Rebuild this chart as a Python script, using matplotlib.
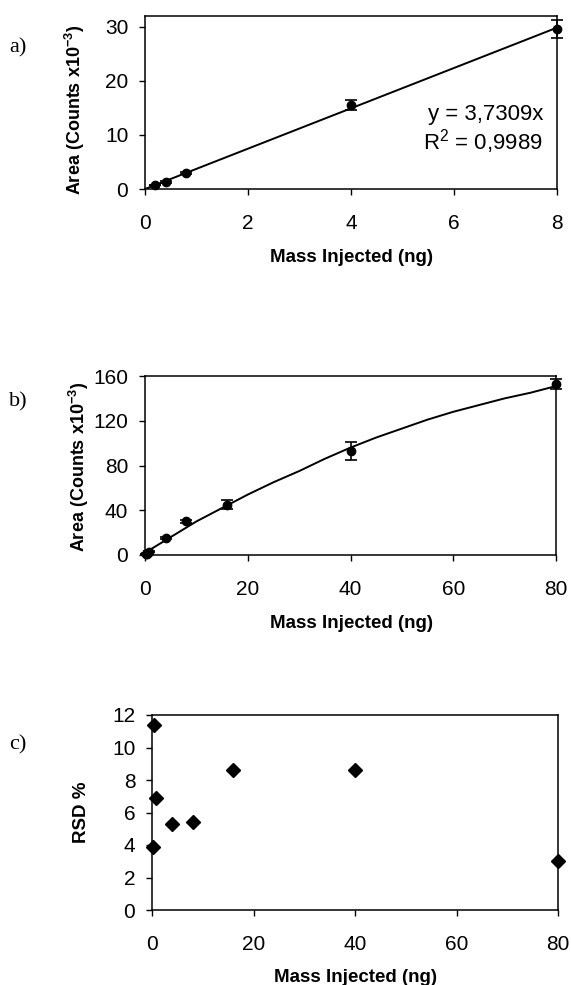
import numpy as np
import matplotlib
matplotlib.use("Agg")
import matplotlib.pyplot as plt

# panel a: low range calibration
mass_a = [0.2, 0.4, 0.8, 4, 8]
area_a = [0.7, 1.3, 3.0, 15.5, 29.6]
err_a = [0.03, 0.15, 0.2, 0.92, 1.63]
slope_a = 3.7309

# panel b: full range calibration
mass_b = [0.2, 0.4, 0.8, 4, 8, 16, 40, 80]
area_b = [0.7, 1.3, 3.0, 15.5, 30, 45, 93, 152.8]
err_b = [0.03, 0.15, 0.2, 0.8, 1.6, 3.9, 8.0, 4.2]
trend_b_x = [0, 5, 10, 15, 20, 25, 30, 35, 40, 45, 50, 55, 60, 65, 70, 75, 80]
trend_b_y = [2, 16, 30, 42, 54, 65, 75, 86, 96, 105, 113, 121, 128, 134, 140, 145, 151]

# panel c: RSD
mass_c = [0.2, 0.4, 0.8, 4, 8, 16, 40, 80]
rsd_c = [3.9, 11.4, 6.9, 5.3, 5.4, 8.6, 8.6, 3.0]

plt.rcParams['font.family'] = ['Liberation Sans', 'DejaVu Sans']
plt.rcParams['mathtext.fontset'] = 'custom'
plt.rcParams['mathtext.rm'] = 'Liberation Sans'
plt.rcParams['mathtext.bf'] = 'Liberation Sans:bold'
plt.rcParams['mathtext.it'] = 'Liberation Sans:italic'

W, H = 571, 985
fig = plt.figure(figsize=(W / 100, H / 100), dpi=100)


def add_ax(l, t, r, b):
    return fig.add_axes([l / W, 1 - b / H, (r - l) / W, (b - t) / H])


def ftext(x, y, s, **kw):
    fig.text(x / W, 1 - y / H, s, **kw)


def style(ax):
    for sp in ax.spines.values():
        sp.set_linewidth(1.1)
    ax.tick_params(axis='x', direction='out', length=4, width=1, pad=14, labelsize=15, top=False)
    ax.tick_params(axis='y', direction='out', length=4, width=1, pad=8, labelsize=15, right=False)


# ---- a ----
ax1 = add_ax(145, 16, 557, 189)
xa = np.array([0, 8])
ax1.plot(xa, slope_a * xa, color='black', lw=1.4)
ax1.errorbar(mass_a, area_a, yerr=err_a, fmt='o', color='black', ms=6,
             capsize=4, elinewidth=1.2, capthick=1.2, clip_on=False)
ax1.set_xlim(0, 8)
ax1.set_ylim(0, 32)
ax1.set_xticks([0, 2, 4, 6, 8])
ax1.set_yticks([0, 10, 20, 30])
style(ax1)
ftext(543, 120, 'y = 3,7309x', ha='right', va='baseline', fontsize=16)
ftext(543, 150, 'R$^{2}$ = 0,9989', ha='right', va='baseline', fontsize=16)
ftext(75, 110, r'Area (Counts x10$^{\mathbf{-3}}$)', rotation=90, ha='center', va='center',
      fontsize=13, weight='bold')
ftext(351, 257, 'Mass Injected (ng)', ha='center', va='center', fontsize=13.5, weight='bold')
ftext(9, 48, 'a)', ha='left', va='center', fontsize=16, family='Liberation Serif')

# ---- b ----
ax2 = add_ax(145, 376, 556, 555)
ax2.plot(trend_b_x, trend_b_y, color='black', lw=1.4)
ax2.errorbar(mass_b, area_b, yerr=err_b, fmt='o', color='black', ms=6,
             capsize=4, elinewidth=1.2, capthick=1.2, clip_on=False)
ax2.set_xlim(0, 80)
ax2.set_ylim(0, 160)
ax2.set_xticks([0, 20, 40, 60, 80])
ax2.set_yticks([0, 40, 80, 120, 160])
style(ax2)
ftext(79, 467, r'Area (Counts x10$^{\mathbf{-3}}$)', rotation=90, ha='center', va='center',
      fontsize=13, weight='bold')
ftext(351, 623, 'Mass Injected (ng)', ha='center', va='center', fontsize=13.5, weight='bold')
ftext(9, 402, 'b)', ha='left', va='center', fontsize=16, family='Liberation Serif')

# ---- c ----
ax3 = add_ax(152, 715, 558, 910)
ax3.plot(mass_c, rsd_c, 'D', color='black', ms=7.5, clip_on=False)
ax3.set_xlim(0, 80)
ax3.set_ylim(0, 12)
ax3.set_xticks([0, 20, 40, 60, 80])
ax3.set_yticks([0, 2, 4, 6, 8, 10, 12])
style(ax3)
ftext(82, 812, 'RSD %', rotation=90, ha='center', va='center', fontsize=13.5, weight='bold')
ftext(355, 977, 'Mass Injected (ng)', ha='center', va='center', fontsize=13.5, weight='bold')
ftext(9, 745, 'c)', ha='left', va='center', fontsize=16, family='Liberation Serif')

fig.savefig('out.png', dpi=100)
